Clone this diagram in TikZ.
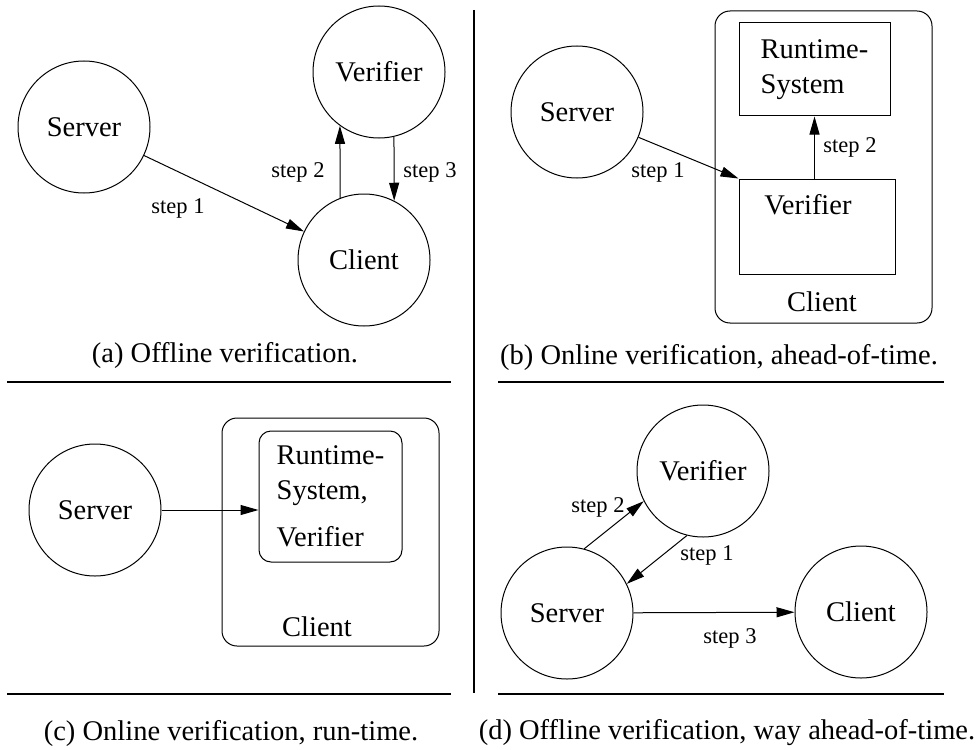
\documentclass[tikz,border=0pt]{standalone}
\usepackage{fontspec}
\setmainfont{Liberation Serif}
\usetikzlibrary{arrows.meta}

\newcommand{\nodefont}{\fontsize{14.25}{17.5}\selectfont}
\newcommand{\stepfont}{\fontsize{11.25}{13.5}\selectfont}

\tikzset{
  blob/.style={circle, draw, minimum size=66pt, inner sep=0pt, font=\nodefont},
  box/.style={rectangle, draw, inner sep=0pt, font=\nodefont},
  roundbox/.style={box, rounded corners=7.5pt},
  steplabel/.style={inner sep=0pt, font=\stepfont},
  plain/.style={inner sep=0pt, font=\nodefont},
  rule/.style={line width=1.2pt}
}

\begin{document}
\begin{tikzpicture}[x=0.5pt, y=-0.5pt, line width=0.5pt, >={Triangle[length=9pt,width=5pt]}]
  \useasboundingbox (0,0) rectangle (979,749);

  % 1. Frame: one vertical divider and the rules above/below each panel
  \draw[rule] (474,10) -- (474,693);
  \foreach \y in {382,694} {
    \draw[rule] (7,\y) -- (451,\y);
    \draw[rule] (498,\y) -- (944,\y);
  }

  % 2. Panel (a): offline verification
  \node[blob] (serverA) at (84,127) {Server};
  \node[blob] (verifierA) at (379,72) {Verifier};
  \node[blob] (clientA) at (364,260) {Client};
  \draw[->] (serverA) -- (clientA);
  \draw[->] (clientA.111) -- (verifierA.234);
  \draw[->] (verifierA.283) -- (clientA.63);
  \node[steplabel] (stepA1) at (178,208) {step 1};
  \node[steplabel] (stepA2) at (298,172) {step 2};
  \node[steplabel] (stepA3) at (430,172) {step 3};
  \node[plain] (capA) at (225,355) {(a) Offline verification.};

  % 3. Panel (b): online verification, ahead-of-time
  \node[blob] (serverB) at (577,112) {Server};
  \node[roundbox, minimum width=108.5pt, minimum height=156pt] (clientB) at (823.5,167) {};
  \node[box, minimum width=75.5pt, minimum height=46.5pt, align=left] (runtimeB) at (814.5,69.5) {Runtime-\\System};
  \node[box, minimum width=78pt, minimum height=47.5pt] (verifierB) at (817,226.5) {};
  \node[plain] (verifierBtext) at (808,205) {Verifier};
  \node[plain] (clientBtext) at (822,302) {Client};
  \draw[->] (serverB) -- (verifierB.north west);
  \draw[->] (runtimeB.south |- verifierB.north) -- (runtimeB.south);
  \node[steplabel] (stepB1) at (658,172) {step 1};
  \node[steplabel] (stepB2) at (850,147) {step 2};
  \node[plain] (capB) at (719,357) {(b) Online verification, ahead-of-time.};

  % 4. Panel (c): online verification, run-time
  \node[blob] (serverC) at (95,510) {Server};
  \node[roundbox, minimum width=108.5pt, minimum height=114pt] (clientC) at (330.5,532) {};
  \node[roundbox, rounded corners=6pt, minimum width=71.5pt, minimum height=65.5pt, align=left] (runtimeC) at (330.5,496.5) {Runtime-\\System,\\[6pt]Verifier};
  \node[plain] (clientCtext) at (317,627) {Client};
  \draw[->] (serverC.east) -- (serverC.east -| runtimeC.west);
  \node[plain] (capC) at (231,733) {(c) Online verification, run-time.};

  % 5. Panel (d): offline verification, way ahead-of-time
  \node[blob] (verifierD) at (703,471) {Verifier};
  \node[blob] (serverD) at (567,613) {Server};
  \node[blob] (clientD) at (861,612) {Client};
  \draw[->] (serverD.75) -- (verifierD.207);
  \draw[->] (verifierD.256) -- (serverD.26);
  \draw[->] (serverD) -- (clientD);
  \node[steplabel] (stepD2) at (598,507) {step 2};
  \node[steplabel] (stepD1) at (707,555) {step 1};
  \node[steplabel] (stepD3) at (730,638) {step 3};
  \node[plain] (capD) at (727,733) {(d) Offline verification, way ahead-of-time.};

\end{tikzpicture}
\end{document}
